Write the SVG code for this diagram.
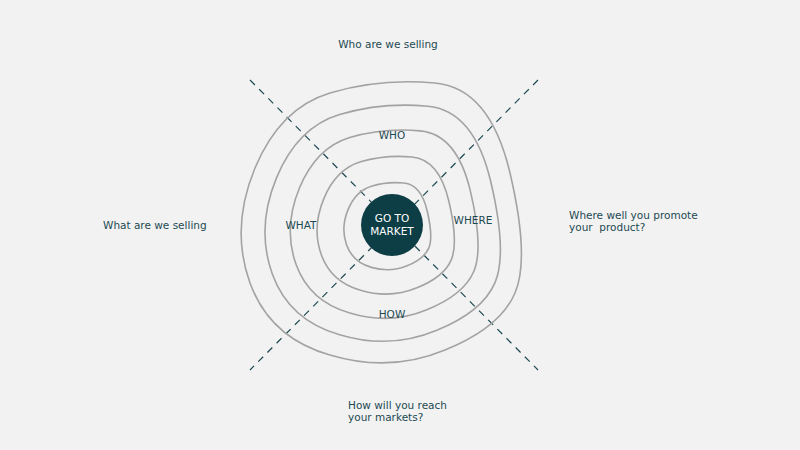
<svg xmlns="http://www.w3.org/2000/svg" width="800" height="450" viewBox="0 0 800 450">
<style>
.t{font-family:"DejaVu Sans","Liberation Sans",sans-serif;font-size:10.5px;fill:#1d4a52}
.r{fill:none;stroke:#a3a3a3;stroke-width:1.6}
.d{stroke:#1d4a52;stroke-width:1.2;stroke-dasharray:7 6}
</style>
<defs>
<path id="ring" class="r" vector-effect="non-scaling-stroke" d="M 45,-145 Q 100,-140 120,-55 Q 140,30 125,65 Q 110,100 55,122 Q 0,145 -60,127 Q -120,110 -140,55 Q -160,0 -135,-60 Q -110,-120 -60,-135 Q -10,-150 45,-145 Z"/>
</defs>
<rect width="800" height="450" fill="#f2f2f2"/>
<g id="connectors">
<line class="d" x1="250" y1="80" x2="538" y2="370"/>
<line class="d" x1="538" y1="80" x2="250" y2="370"/>
</g>
<g id="rings">
<use href="#ring" transform="translate(390,228)"/>
<use href="#ring" transform="translate(390,228) scale(0.84)"/>
<use href="#ring" transform="translate(390,228) scale(0.67)"/>
<use href="#ring" transform="translate(390,228) scale(0.49)"/>
<use href="#ring" transform="translate(390,228) scale(0.31)"/>
</g>
<g id="center">
<circle cx="392" cy="225" r="31" fill="#0d3d45"/>
<text class="t" x="392" y="222" text-anchor="middle" style="fill:#fff">GO TO</text>
<text class="t" x="392" y="235" text-anchor="middle" style="fill:#fff">MARKET</text>
</g>
<g id="who"><text class="t" x="392" y="139" text-anchor="middle">WHO</text></g>
<g id="what"><text class="t" x="301" y="229" text-anchor="middle">WHAT</text></g>
<g id="where"><text class="t" x="473" y="224" text-anchor="middle">WHERE</text></g>
<g id="how"><text class="t" x="392" y="318" text-anchor="middle">HOW</text></g>
<g id="q-who"><text class="t" x="388" y="48" text-anchor="middle">Who are we selling</text></g>
<g id="q-what"><text class="t" x="103" y="229">What are we selling</text></g>
<g id="q-where"><text class="t" x="569" y="219">Where well you promote</text><text class="t" x="569" y="231" xml:space="preserve">your  product?</text></g>
<g id="q-how"><text class="t" x="348" y="409">How will you reach</text><text class="t" x="348" y="421">your markets?</text></g>
</svg>
